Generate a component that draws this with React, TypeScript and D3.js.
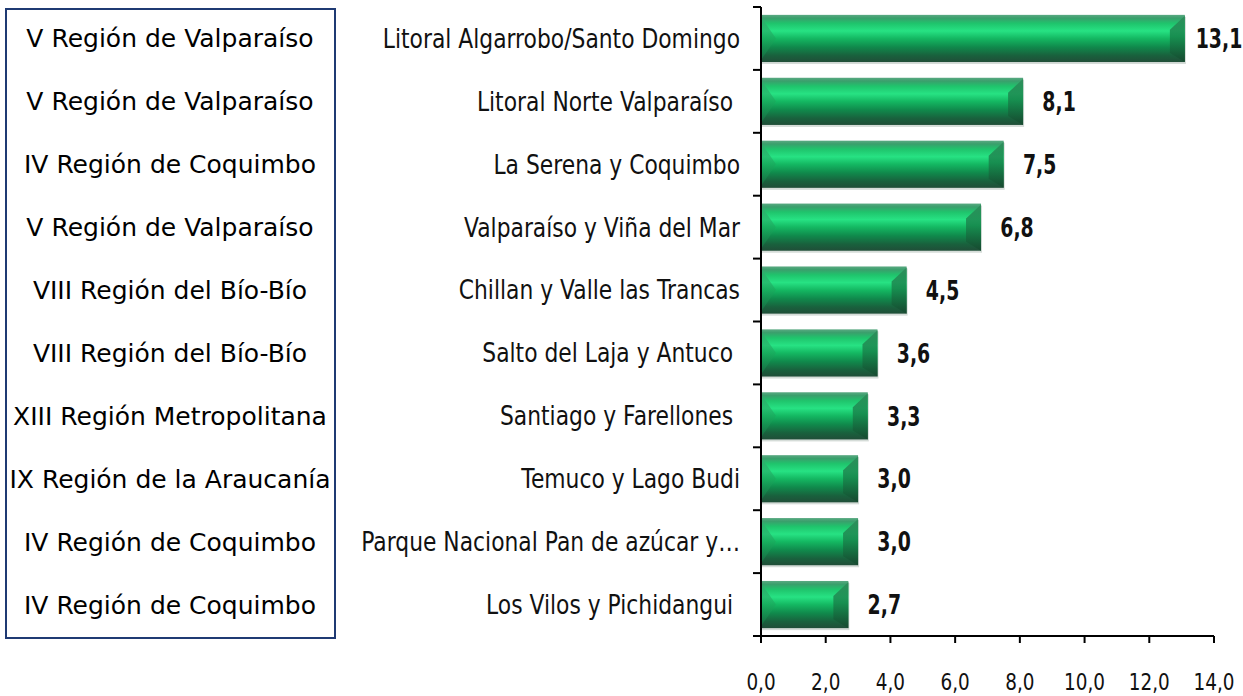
import React from "react";
import * as d3 from "d3";

const regions = [
  "V Región de Valparaíso",
  "V Región de Valparaíso",
  "IV Región de Coquimbo",
  "V Región de Valparaíso",
  "VIII Región del Bío-Bío",
  "VIII Región del Bío-Bío",
  "XIII Región Metropolitana",
  "IX Región de la Araucanía",
  "IV Región de Coquimbo",
  "IV Región de Coquimbo",
];

const destinations = [
  "Litoral Algarrobo/Santo Domingo",
  "Litoral Norte Valparaíso ",
  "La Serena y Coquimbo",
  "Valparaíso y Viña del Mar",
  "Chillan y Valle las Trancas",
  "Salto del Laja y Antuco ",
  "Santiago y Farellones ",
  "Temuco y Lago Budi",
  "Parque Nacional Pan de azúcar y…",
  "Los Vilos y Pichidangui ",
];

const values = [13.1, 8.1, 7.5, 6.8, 4.5, 3.6, 3.3, 3.0, 3.0, 2.7];

const xTicks = [0, 2, 4, 6, 8, 10, 12, 14];

const W = 1243;
const H = 696;
const FONT = "'DejaVu Sans', Verdana, sans-serif";

const fmt = (v: number) => d3.format(".1f")(v).replace(".", ",");

export default function App() {
  const x = d3.scaleLinear().domain([0, 14]).range([761, 1214]);
  const y = d3
    .scaleBand<number>()
    .domain(d3.range(values.length))
    .range([7, 636])
    .paddingInner(0.25)
    .paddingOuter(0.125);
  const step = y.step();
  const bh = y.bandwidth();
  const bandEdges = d3.range(values.length + 1).map((i) => 7 + i * step);

  return (
    <div style={{ position: "fixed", left: 0, top: 0 }}>
      <svg width={W} height={H} style={{ display: "block", background: "#fff" }}>
        <defs>
          <linearGradient id="barGrad" x1="0" y1="0" x2="0" y2="1">
            <stop offset="0%" stopColor="#5aa982" />
            <stop offset="7%" stopColor="#3a9f6c" />
            <stop offset="18%" stopColor="#1fc46c" />
            <stop offset="34%" stopColor="#27e283" />
            <stop offset="50%" stopColor="#14b862" />
            <stop offset="68%" stopColor="#108a4c" />
            <stop offset="86%" stopColor="#19613d" />
            <stop offset="100%" stopColor="#204e38" />
          </linearGradient>
          <linearGradient id="rightBevel" x1="0" y1="0" x2="0" y2="1">
            <stop offset="0%" stopColor="#2f8a5a" />
            <stop offset="45%" stopColor="#17864c" />
            <stop offset="100%" stopColor="#15482e" />
          </linearGradient>
          <linearGradient id="leftBevel" x1="0" y1="0" x2="0" y2="1">
            <stop offset="0%" stopColor="#3aa872" />
            <stop offset="50%" stopColor="#1aa85c" />
            <stop offset="100%" stopColor="#157a47" />
          </linearGradient>
        </defs>

        {/* left region box */}
        <rect x={6} y={9} width={329} height={629} fill="#fff" stroke="#1f3a73" strokeWidth={2} />
        {regions.map((r, i) => (
          <text
            key={"r" + i}
            x={170}
            y={(y(i) as number) + bh / 2}
            dy="0.36em"
            textAnchor="middle"
            fontFamily={FONT}
            fontSize={25}
            fill="#000"
          >
            {r}
          </text>
        ))}

        {/* bars */}
        {values.map((v, i) => {
          const y0 = y(i) as number;
          const y1 = y0 + bh;
          const x0 = x(0);
          const x1 = x(v);
          const b = Math.min(15, (x1 - x0) / 3);
          return (
            <g key={"b" + i}>
              <rect x={x0 + 1} y={y0 + 2} width={x1 - x0} height={bh} fill="#d5dcd8" />
              <rect x={x0} y={y0} width={x1 - x0} height={bh} fill="url(#barGrad)" />
              <polygon
                points={`${x0},${y0 + 2} ${x0 + b},${y0 + bh / 2} ${x0},${y1 - 2}`}
                fill="url(#leftBevel)"
                opacity={0.6}
              />
              <polygon
                points={`${x1},${y0 + 1} ${x1 - b},${y0 + b} ${x1 - b},${y1 - b * 0.6} ${x1},${y1}`}
                fill="url(#rightBevel)"
                opacity={0.85}
              />
            </g>
          );
        })}

        {/* category labels */}
        {destinations.map((d, i) => (
          <text
            key={"d" + i}
            transform={`translate(740,${(y(i) as number) + bh / 2}) scale(0.84,1)`}
            dy="0.36em"
            textAnchor="end"
            fontFamily={FONT}
            fontSize={26}
            fill="#111"
            style={{ whiteSpace: "pre" }}
          >
            {d}
          </text>
        ))}

        {/* value labels */}
        {values.map((v, i) => (
          <text
            key={"v" + i}
            transform={`translate(${Math.min(x(v) + 36, W - 24)},${(y(i) as number) + bh / 2}) scale(0.7,1)`}
            dy="0.36em"
            textAnchor="middle"
            fontFamily={FONT}
            fontWeight="bold"
            fontSize={27}
            fill="#111"
          >
            {fmt(v)}
          </text>
        ))}

        {/* y axis */}
        <line x1={761} x2={761} y1={7} y2={636} stroke="#000" strokeWidth={2} />
        {bandEdges.map((e, i) => (
          <line key={"yt" + i} x1={753} x2={761} y1={e} y2={e} stroke="#000" strokeWidth={2} />
        ))}

        {/* x axis */}
        <line x1={761} x2={x(14)} y1={636} y2={636} stroke="#000" strokeWidth={2} />
        {xTicks.map((t) => (
          <g key={"xt" + t}>
            <line x1={x(t)} x2={x(t)} y1={636} y2={643} stroke="#000" strokeWidth={2} />
            <text
              transform={`translate(${x(t)},690) scale(0.8,1)`}
              textAnchor="middle"
              fontFamily={FONT}
              fontSize={23}
              fill="#111"
            >
              {fmt(t)}
            </text>
          </g>
        ))}
      </svg>
    </div>
  );
}
